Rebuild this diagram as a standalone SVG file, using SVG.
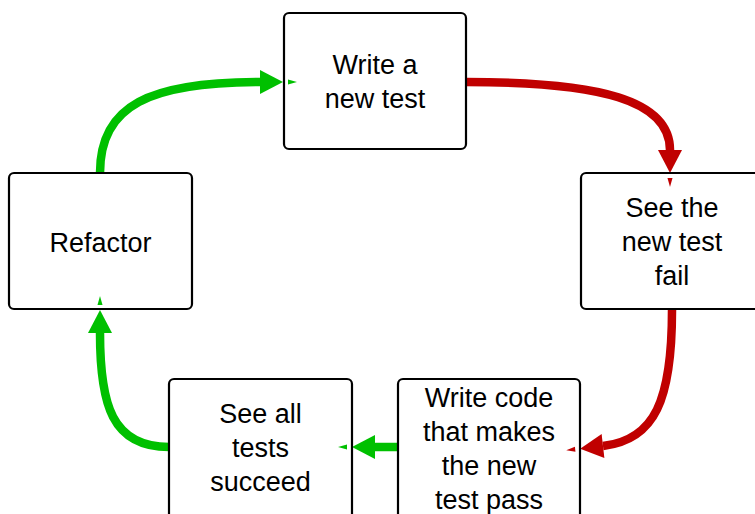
<svg xmlns="http://www.w3.org/2000/svg" width="755" height="514" viewBox="0 0 755 514">
  <style>
    .box { fill: none; stroke: #000; stroke-width: 2.2; }
    .lbl { font-family: "Liberation Sans", Arial, sans-serif; font-size: 27px; fill: #000; text-anchor: middle; }
    .g { fill: none; stroke: #00c000; stroke-width: 8.5; }
    .r { fill: none; stroke: #c00000; stroke-width: 8.5; }
  </style>
  <defs>
    <marker id="ag" markerUnits="userSpaceOnUse" viewBox="0 0 40 24" refX="0" refY="12" markerWidth="40" markerHeight="24" orient="auto" overflow="visible">
      <polygon points="0,0 23,12 0,24" fill="#00c000"/>
      <polygon points="28,9.5 37,12 28,14.5" fill="#00c000"/>
    </marker>
    <marker id="ar" markerUnits="userSpaceOnUse" viewBox="0 0 40 24" refX="0" refY="12" markerWidth="40" markerHeight="24" orient="auto" overflow="visible">
      <polygon points="0,0 23,12 0,24" fill="#c00000"/>
      <polygon points="28,9.5 37,12 28,14.5" fill="#c00000"/>
    </marker>
  </defs>
  <rect width="755" height="514" fill="#fff"/>
  <g id="connectors">
    <path class="g" d="M100,173 C100,105 150,82 260,82" marker-end="url(#ag)"/>
    <path class="r" d="M466,82 C600,82 670,100 670,150" marker-end="url(#ar)"/>
    <path class="r" d="M672,310 C672,400 655,440 603,446" marker-end="url(#ar)"/>
    <path class="g" d="M398,447 L375,447" marker-end="url(#ag)"/>
    <path class="g" d="M169,447 C112,447 100,405 100,333" marker-end="url(#ag)"/>
  </g>
  <g id="write-test">
    <rect class="box" x="284" y="13" width="182" height="136" rx="5"/>
    <text class="lbl" x="375" y="74">Write a</text>
    <text class="lbl" x="375" y="108">new test</text>
  </g>
  <g id="see-fail">
    <rect class="box" x="581" y="173" width="182" height="136" rx="5"/>
    <text class="lbl" x="672" y="217">See the</text>
    <text class="lbl" x="672" y="251">new test</text>
    <text class="lbl" x="672" y="285">fail</text>
  </g>
  <g id="write-code">
    <rect class="box" x="398" y="379" width="182" height="140" rx="5"/>
    <text class="lbl" x="489" y="407">Write code</text>
    <text class="lbl" x="489" y="441">that makes</text>
    <text class="lbl" x="489" y="475">the new</text>
    <text class="lbl" x="489" y="509">test pass</text>
  </g>
  <g id="see-succeed">
    <rect class="box" x="169" y="379" width="183" height="140" rx="5"/>
    <text class="lbl" x="260.5" y="423">See all</text>
    <text class="lbl" x="260.5" y="457">tests</text>
    <text class="lbl" x="260.5" y="491">succeed</text>
  </g>
  <g id="refactor">
    <rect class="box" x="9" y="173" width="183" height="136" rx="5"/>
    <text class="lbl" x="100.5" y="252">Refactor</text>
  </g>
</svg>
